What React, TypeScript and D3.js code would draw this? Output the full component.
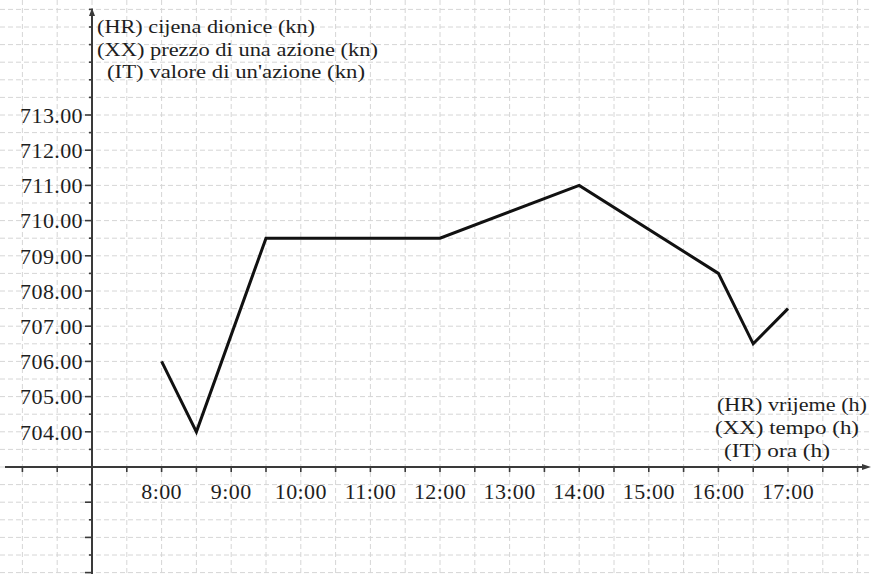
import React from "react";
import * as d3 from "d3";

const times = [8, 8.5, 9.5, 12, 14, 16, 16.5, 17];
const prices = [706, 704, 709.5, 709.5, 711, 708.5, 706.5, 707.5];
const yTickValues = [704, 705, 706, 707, 708, 709, 710, 711, 712, 713];
const xTickHours = [8, 9, 10, 11, 12, 13, 14, 15, 16, 17];
const yLabelLines = [
  "(HR) cijena dionice (kn)",
  "(XX) prezzo di una azione (kn)",
  "(IT) valore di un'azione (kn)",
];
const xLabelLines = ["(HR) vrijeme (h)", "(XX) tempo (h)", "(IT) ora (h)"];

const W = 871;
const H = 574;
const FONT = "Liberation Serif";

export default function App() {
  const x = d3.scaleLinear().domain([7, 17]).range([92, 788]);
  const y = d3.scaleLinear().domain([703, 713]).range([467, 115]);

  const gridX = d3.range(5.5, 19, 0.5).map((v) => x(v)).filter((p) => p > 0 && p < W);
  const gridY = d3.range(699.5, 717, 0.5).map((v) => y(v)).filter((p) => p > 0 && p < H);

  const line = d3
    .line<number>()
    .x((_, i) => x(times[i]))
    .y((d) => y(d));

  const halfHours = d3.range(6, 18.6, 0.5).filter((h) => h !== 7);
  const yMarks = d3.range(700, 716.1, 0.5).filter((v) => v !== 703);

  const fmtHour = (h: number) => `${h}:00`;
  const tick = { fontFamily: FONT, fontSize: "22px", letterSpacing: "0.4px", fill: "#1e1e1e" };
  const lab = { fontFamily: FONT, fontSize: "18px", fill: "#1e1e1e" };

  const topLabels = [
    { x: 97, y: 27, len: 218 },
    { x: 97, y: 49.5, len: 281 },
    { x: 107, y: 72, len: 258 },
  ];
  const botLabels = [
    { x: 717, y: 405, len: 150 },
    { x: 715, y: 428, len: 144 },
    { x: 724, y: 451, len: 106 },
  ];

  return (
    <svg
      width={W}
      height={H}
      style={{ position: "absolute", left: 0, top: 0, display: "block", background: "#fff" }}
    >
      <rect x={0} y={0} width={W} height={H} fill="#fff" />
      <g stroke="#d6d6d6" strokeWidth={1} strokeDasharray="5,3">
        {gridX.map((p, i) => (
          <line key={"gx" + i} x1={p} x2={p} y1={0} y2={H} />
        ))}
        {gridY.map((p, i) => (
          <line key={"gy" + i} x1={0} x2={W} y1={p} y2={p} />
        ))}
      </g>

      <g stroke="#3a3a3a" strokeWidth={2} fill="none">
        <line x1={5} x2={866} y1={y(703)} y2={y(703)} />
        <line x1={x(7)} x2={x(7)} y1={12} y2={H} />
      </g>
      <path d={`M871,${y(703)} L862,${y(703) - 3} L862,${y(703) + 3} Z`} fill="#3a3a3a" />
      <path d={`M${x(7)},8 L${x(7) - 3},16 L${x(7) + 3},16 Z`} fill="#3a3a3a" />

      <g stroke="#3a3a3a" strokeWidth={1.6}>
        {halfHours.map((h, i) => (
          <line key={"xt" + i} x1={x(h)} x2={x(h)} y1={y(703) + 1} y2={y(703) + 5} />
        ))}
        {yMarks.map((v, i) => {
          const isInt = Number.isInteger(v) && v <= 713;
          return (
            <line
              key={"yt" + i}
              x1={isInt ? x(7) - 7 : x(7) - 3}
              x2={x(7) + (isInt ? 0 : 1)}
              y1={y(v)}
              y2={y(v)}
            />
          );
        })}
      </g>

      {yTickValues.map((v) => (
        <text key={"yl" + v} x={x(7) - 9} y={y(v)} dy="0.35em" textAnchor="end" style={tick}>
          {v.toFixed(2)}
        </text>
      ))}
      {xTickHours.map((h) => (
        <text key={"xl" + h} x={x(h)} y={y(703) + 24} dy="0.35em" textAnchor="middle" style={tick}>
          {fmtHour(h)}
        </text>
      ))}

      <path d={line(prices) || ""} fill="none" stroke="#111" strokeWidth={3} strokeLinejoin="miter" />

      {yLabelLines.map((t, i) => (
        <text
          key={"tl" + i}
          x={topLabels[i].x}
          y={topLabels[i].y}
          dy="0.35em"
          textLength={topLabels[i].len}
          lengthAdjust="spacingAndGlyphs"
          style={lab}
        >
          {t}
        </text>
      ))}
      {xLabelLines.map((t, i) => (
        <text
          key={"bl" + i}
          x={botLabels[i].x}
          y={botLabels[i].y}
          dy="0.35em"
          textLength={botLabels[i].len}
          lengthAdjust="spacingAndGlyphs"
          style={lab}
        >
          {t}
        </text>
      ))}
    </svg>
  );
}
